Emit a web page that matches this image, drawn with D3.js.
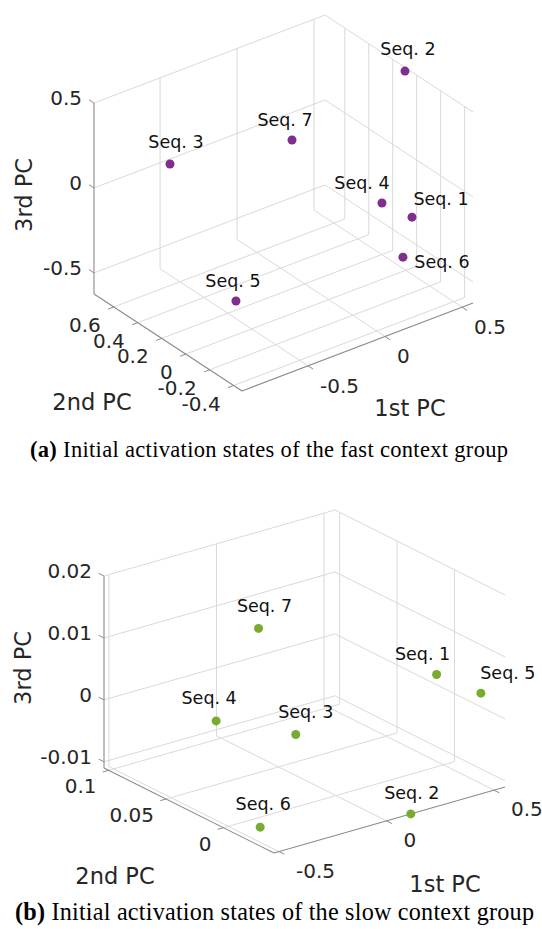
<!DOCTYPE html>
<html>
<head>
<meta charset="utf-8">
<script src="https://cdn.jsdelivr.net/npm/d3@7"></script>
<style>
  body { margin: 0; background: #fff; }
  svg text { font-family: "DejaVu Sans", sans-serif; fill: #262626; }
  svg text.caption { font-family: "Liberation Serif", "Times New Roman", serif; fill: #000; }
</style>
</head>
<body>
<svg id="chart" width="542" height="929"></svg>
<script>
// point names, same order in both groups
var seqNames = ["Seq. 1", "Seq. 2", "Seq. 3", "Seq. 4", "Seq. 5", "Seq. 6", "Seq. 7"];

// (a) fast context group, first three PCs
var fastPC1 = [0.571, 0.548, -0.929, 0.19, -0.39, 0.116, -0.005];
var fastPC2 = [0.039, 0.068, 0.131, -0.2, 0.273, -0.47, 0.3];
var fastPC3 = [-0.354, 0.5, 0.434, -0.029, -0.624, -0.197, 0.178];

// (b) slow context group
var slowPC1 = [0.468, 0.113, -0.08, -0.29, 0.551, -0.411, -0.376];
var slowPC2 = [0.0, -0.044, 0.02, 0.05, -0.023, -0.011, -0.003];
var slowPC3 = [0.0039, -0.011, -0.0022, -0.0007, 0.0022, -0.011, 0.02];

// axis limits and ticks
var fastLimX = [-0.929, 0.571], fastLimY = [-0.47, 0.765], fastLimZ = [-0.624, 0.5];
var fastTicksX = [-0.5, 0, 0.5];
var fastTicksY = [-0.4, -0.2, 0, 0.2, 0.4, 0.6];
var fastTicksZ = [-0.5, 0, 0.5];

var slowLimX = [-0.523, 0.551], slowLimY = [-0.044, 0.104], slowLimZ = [-0.011, 0.02];
var slowTicksX = [-0.5, 0, 0.5];
var slowTicksY = [0, 0.05, 0.1];
var slowTicksZ = [-0.01, 0, 0.01, 0.02];

var svg = d3.select("#chart");

// orthographic box: o = screen pos of (xmin, ymax, zmin); ex/ey/ez = screen span of each axis
var panels = [
  {
    xs: fastPC1, ys: fastPC2, zs: fastPC3,
    limX: fastLimX, limY: fastLimY, limZ: fastLimZ,
    ticksX: fastTicksX, ticksY: fastTicksY, ticksZ: fastTicksZ,
    color: "#7E2F8E",
    o: [94, 294], ex: [231, -88], ey: [148, 97], ez: [0, -191],
    xLab: [12, 20], yLab: [-13, 18],
    labelOff: [[29, -18], [3, -22], [6, -22], [-20, -20], [-3, -20], [39, 5], [-7, -20]],
    titleX: [410, 408], titleY: [92, 402], titleZ: [24, 195],
    caption: ["(a)", " Initial activation states of the fast context group"],
    capPos: [30, 457], capSize: 22.5, capLen: 478
  },
  {
    xs: slowPC1, ys: slowPC2, zs: slowPC3,
    limX: slowLimX, limY: slowLimY, limZ: slowLimZ,
    ticksX: slowTicksX, ticksY: slowTicksY, ticksZ: slowTicksZ,
    color: "#77AC30",
    o: [104, 768], ex: [231, -66], ey: [170, 85], ez: [0, -192],
    xLab: [17, 19], yLab: [-12, 16],
    labelOff: [[-14, -21], [1, -21], [10, -23], [-7, -23], [27, -20], [3, -23], [6, -22]],
    titleX: [445, 884], titleY: [115, 876], titleZ: [23, 668],
    caption: ["(b)", " Initial activation states of the slow context group"],
    capPos: [15, 920], capSize: 24.2, capLen: 519
  }
];

panels.forEach(function (p) {
  var sx = d3.scaleLinear().domain(p.limX).range([0, 1]);
  var sy = d3.scaleLinear().domain(p.limY).range([1, 0]);
  var sz = d3.scaleLinear().domain(p.limZ).range([0, 1]);
  function proj(x, y, z) {
    var a = sx(x), b = sy(y), c = sz(z);
    return [p.o[0] + a * p.ex[0] + b * p.ey[0] + c * p.ez[0],
            p.o[1] + a * p.ex[1] + b * p.ey[1] + c * p.ez[1]];
  }
  function unit(v) { var l = Math.hypot(v[0], v[1]); return [v[0] / l, v[1] / l]; }

  var x0 = p.limX[0], x1 = p.limX[1], y0 = p.limY[0], y1 = p.limY[1], z0 = p.limZ[0], z1 = p.limZ[1];
  var g = svg.append("g");

  // grid lines on the two back walls and the floor
  var segs = [];
  p.ticksX.forEach(function (t) {
    segs.push([proj(t, y1, z0), proj(t, y1, z1)]);   // back-left wall
    segs.push([proj(t, y0, z0), proj(t, y1, z0)]);   // floor
  });
  p.ticksY.forEach(function (t) {
    segs.push([proj(x1, t, z0), proj(x1, t, z1)]);   // back-right wall
    segs.push([proj(x0, t, z0), proj(x1, t, z0)]);   // floor
  });
  p.ticksZ.forEach(function (t) {
    segs.push([proj(x0, y1, t), proj(x1, y1, t)]);
    segs.push([proj(x1, y1, t), proj(x1, y0, t)]);
  });
  g.selectAll("line.grid").data(segs).enter().append("line")
    .attr("class", "grid")
    .attr("x1", function (d) { return d[0][0]; }).attr("y1", function (d) { return d[0][1]; })
    .attr("x2", function (d) { return d[1][0]; }).attr("y2", function (d) { return d[1][1]; })
    .attr("stroke", "#d9d9d9").attr("stroke-width", 1);

  // axis lines
  var axes = [
    [proj(x0, y1, z0), proj(x0, y1, z1)],
    [proj(x0, y1, z0), proj(x0, y0, z0)],
    [proj(x0, y0, z0), proj(x1, y0, z0)]
  ];
  g.selectAll("line.axis").data(axes).enter().append("line")
    .attr("class", "axis")
    .attr("x1", function (d) { return d[0][0]; }).attr("y1", function (d) { return d[0][1]; })
    .attr("x2", function (d) { return d[1][0]; }).attr("y2", function (d) { return d[1][1]; })
    .attr("stroke", "#8a8a8a").attr("stroke-width", 1.1);

  // tick marks + labels
  var dirZ = unit([-p.ey[0], -p.ey[1]]);   // toward +y
  var dirY = unit([-p.ex[0], -p.ex[1]]);   // toward -x
  var dirX = unit(p.ey);                   // toward -y
  var tk = 6;
  var ticks = [];
  p.ticksZ.forEach(function (t) { ticks.push({ pt: proj(x0, y1, t), dir: dirZ, t: t, kind: "z" }); });
  p.ticksY.forEach(function (t) { ticks.push({ pt: proj(x0, t, z0), dir: dirY, t: t, kind: "y" }); });
  p.ticksX.forEach(function (t) { ticks.push({ pt: proj(t, y0, z0), dir: dirX, t: t, kind: "x" }); });

  g.selectAll("line.tick").data(ticks).enter().append("line")
    .attr("x1", function (d) { return d.pt[0]; }).attr("y1", function (d) { return d.pt[1]; })
    .attr("x2", function (d) { return d.pt[0] + d.dir[0] * tk; })
    .attr("y2", function (d) { return d.pt[1] + d.dir[1] * tk; })
    .attr("stroke", "#8a8a8a").attr("stroke-width", 1);

  g.selectAll("text.tl").data(ticks).enter().append("text")
    .attr("font-size", 20)
    .attr("dominant-baseline", "central")
    .attr("text-anchor", function (d) { return d.kind === "x" ? "start" : "end"; })
    .attr("x", function (d) {
      if (d.kind === "z") return d.pt[0] - 12;
      if (d.kind === "y") return d.pt[0] + p.yLab[0];
      return d.pt[0] + p.xLab[0];
    })
    .attr("y", function (d) {
      if (d.kind === "z") return d.pt[1] - 5;
      if (d.kind === "y") return d.pt[1] + p.yLab[1];
      return d.pt[1] + p.xLab[1];
    })
    .text(function (d) { return String(d.t); });

  // axis titles
  g.append("text").attr("x", p.titleX[0]).attr("y", p.titleX[1])
    .attr("text-anchor", "middle").attr("dominant-baseline", "central")
    .attr("font-size", 22.5).text("1st PC");
  g.append("text").attr("x", p.titleY[0]).attr("y", p.titleY[1])
    .attr("text-anchor", "middle").attr("dominant-baseline", "central")
    .attr("font-size", 22.5).text("2nd PC");
  g.append("text")
    .attr("transform", "translate(" + p.titleZ[0] + "," + p.titleZ[1] + ") rotate(-90)")
    .attr("text-anchor", "middle").attr("dominant-baseline", "central")
    .attr("font-size", 22.5).text("3rd PC");

  // points
  var pts = seqNames.map(function (n, i) {
    return { name: n, i: i, s: proj(p.xs[i], p.ys[i], p.zs[i]) };
  });
  g.selectAll("circle").data(pts).enter().append("circle")
    .attr("cx", function (d) { return d.s[0]; })
    .attr("cy", function (d) { return d.s[1]; })
    .attr("r", 4.5)
    .attr("fill", p.color);

  g.selectAll("text.seq").data(pts).enter().append("text")
    .attr("x", function (d) { return d.s[0] + p.labelOff[d.i][0]; })
    .attr("y", function (d) { return d.s[1] + p.labelOff[d.i][1]; })
    .attr("text-anchor", "middle").attr("dominant-baseline", "central")
    .attr("font-size", 17.5)
    .style("fill", "#111")
    .text(function (d) { return d.name; });

  // caption
  var cap = svg.append("text").attr("class", "caption")
    .attr("x", p.capPos[0]).attr("y", p.capPos[1])
    .attr("font-size", p.capSize)
    .attr("textLength", p.capLen)
    .attr("lengthAdjust", "spacing");
  cap.append("tspan").attr("font-weight", "bold").text(p.caption[0]);
  cap.append("tspan").text(p.caption[1]);
});
</script>
</body>
</html>
